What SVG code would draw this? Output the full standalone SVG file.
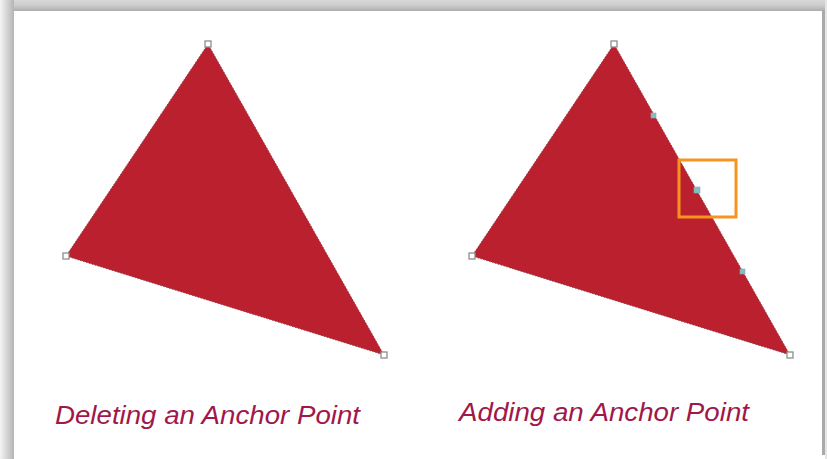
<svg xmlns="http://www.w3.org/2000/svg" width="827" height="459" viewBox="0 0 827 459">
<style>
.tri{fill:#BB202F;stroke:#8a3a44;stroke-width:0.8;stroke-dasharray:1.5 1.5}
.anc{fill:#fff;stroke:#8e8e8e;stroke-width:1.3}
.add{fill:#7fc1c2;stroke:#8aa;stroke-width:0.6}
.lbl{font-family:"Liberation Sans",Arial,sans-serif;font-style:italic;font-size:25px;fill:#A0184A}
</style>
<defs>
<linearGradient id="gl" x1="0" y1="0" x2="1" y2="0">
<stop offset="0" stop-color="#f4f4f4"/><stop offset="1" stop-color="#b4b4b4"/>
</linearGradient>
<linearGradient id="gt" x1="0" y1="0" x2="0" y2="1">
<stop offset="0" stop-color="#d8d8d8"/><stop offset="0.5" stop-color="#cccccc"/><stop offset="1" stop-color="#adadad"/>
</linearGradient>
</defs>
<rect x="0" y="0" width="827" height="459" fill="#fff"/>
<rect x="0" y="0" width="827" height="11" fill="url(#gt)"/>
<rect x="0" y="0" width="14" height="459" fill="url(#gl)"/>
<rect x="822" y="10" width="3" height="445" fill="#aaaaaa"/>
<rect x="825" y="0" width="2" height="459" fill="#e6e6e6"/>
<rect x="14" y="11" width="808" height="448" fill="#fff"/>
<g id="left-triangle">
<polygon class="tri" points="208,44 66,256 384,355"/>
<rect class="anc" x="205" y="41" width="6" height="6"/>
<rect class="anc" x="63" y="253" width="6" height="6"/>
<rect class="anc" x="381" y="352" width="6" height="6"/>
</g>
<g id="right-triangle">
<polygon class="tri" points="614,44 472,256 790,355"/>
<rect class="anc" x="611" y="41" width="6" height="6"/>
<rect class="anc" x="469" y="253" width="6" height="6"/>
<rect class="anc" x="787" y="352" width="6" height="6"/>
<rect class="add" x="651" y="113" width="5" height="5"/>
<rect class="add" x="694" y="187" width="6" height="6"/>
<rect class="add" x="740" y="269" width="5" height="5"/>
</g>
<g id="highlight">
<rect x="679" y="160" width="57" height="57" fill="none" stroke="#F7941D" stroke-width="3"/>
</g>
<g id="connectors"></g>
<g id="labels">
<text class="lbl" x="55" y="424" textLength="305" lengthAdjust="spacingAndGlyphs">Deleting an Anchor Point</text>
<text class="lbl" x="459" y="421" textLength="290" lengthAdjust="spacingAndGlyphs">Adding an Anchor Point</text>
</g>
</svg>
